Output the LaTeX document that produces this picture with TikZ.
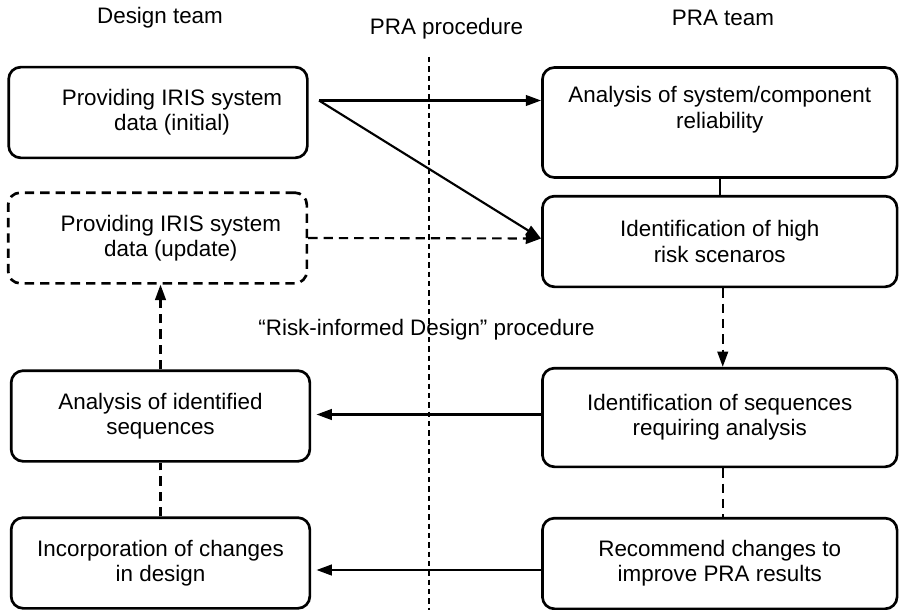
\documentclass[tikz,border=0pt]{standalone}
\usepackage{fontspec}
\setmainfont{Liberation Sans}
\usetikzlibrary{calc,arrows.meta}

\begin{document}
\begin{tikzpicture}[x=0.75pt,y=0.75pt,yscale=-1,xscale=1,
  every node/.style={font=\fontsize{16.8}{19}\selectfont},
  teambox/.style={draw, line width=2pt, rounded corners=9pt, inner sep=0pt, align=center},
  leftbox/.style={teambox, minimum width=224pt, minimum height=68pt},
  rightbox/.style={teambox, minimum width=266pt},
  flow/.style={line width=1.6pt, -{Triangle[length=11.5pt,width=8pt]}},
  dashlink/.style={line width=1.6pt, dash pattern=on 7pt off 4.5pt},
  dashflow/.style={dashlink, -{Triangle[length=11.5pt,width=8pt]}},
  divider/.style={line width=0.9pt, dash pattern=on 4pt off 3pt}]
  \useasboundingbox (0,0) rectangle (899,610);
  %Column headers
  \node (designhead) at (160,18) {Design team};
  \node (prohead) at (446.5,29) {PRA procedure};
  \node (prahead) at (723,18) {PRA team};
  \node (ridhead) at (426.5,330) {``Risk-informed Design'' procedure};
  %Divider line
  \coordinate (divtop) at (429,57);
  \coordinate (divbot) at (429,610);
  \draw [divider] (divtop) -- (divbot);
  %Design team boxes
  \node [leftbox, label={[xshift=10.5pt,align=center]center:Providing IRIS system\\data (initial)}] (design1) at (158,112.5) {};
  \node [leftbox, dash pattern=on 7pt off 4.5pt, label={[xshift=10pt,align=center]center:Providing IRIS system\\data (update)}] (design2) at (157.5,238) {};
  \node [leftbox] (design3) at (160.5,416) {Analysis of identified\\sequences};
  \node [leftbox] (design4) at (160.5,563) {Incorporation of changes\\in design};
  %PRA team boxes
  \node [rightbox, minimum height=82.5pt, label={[yshift=9.5pt,align=center]center:Analysis of system/component\\reliability}] (pra1) at (719.75,122.5) {};
  \node [rightbox, minimum height=68pt] (pra2) at (719.75,241.5) {Identification of high\\risk scenaros};
  \node [rightbox, minimum height=74pt] (pra3) at (719.75,417.5) {Identification of sequences\\requiring analysis};
  \node [rightbox, minimum height=68pt] (pra4) at (719.75,563.5) {Recommend changes to\\improve PRA results};
  %Connectors
  \coordinate (fork) at (319,100.5);
  \coordinate (hit) at ($(pra2.west)+(0,-3)$);
  \draw [flow] (fork) -- (fork -| pra1.west);
  \draw [flow] (fork) -- (hit);
  \draw [dashflow] (design2.east) -- (hit);
  \draw [line width=1.6pt] (pra1.south) -- (pra2.north);
  \draw [dashflow] ($(pra2.south)+(3,0)$) -- ($(pra3.north)+(3,0)$);
  \draw [dashlink] ($(pra3.south)+(3,0)$) -- ($(pra4.north)+(3,0)$);
  \coordinate (seqout) at ($(pra3.west)+(0,-3)$);
  \draw [flow, shorten >=4pt] (seqout) -- (seqout -| design3.east);
  \coordinate (recout) at ($(pra4.west)+(0,6.5)$);
  \draw [flow, shorten >=4pt] (recout) -- (recout -| design4.east);
  \draw [dashlink] (design4.north) -- (design4.north |- design3.south);
  \draw [dashflow] (design3.north) -- (design3.north |- design2.south);
\end{tikzpicture}
\end{document}
